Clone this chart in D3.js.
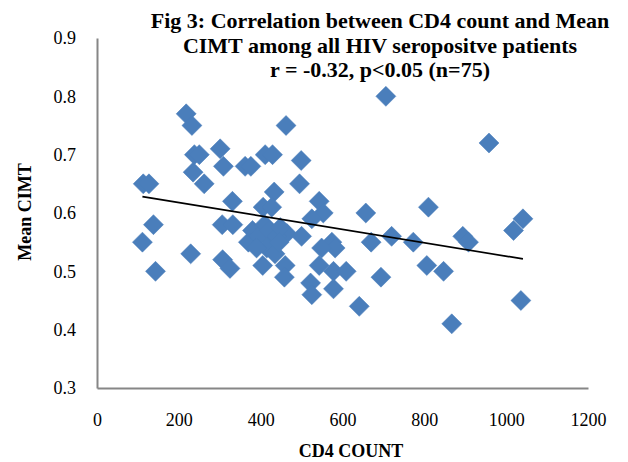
<!DOCTYPE html>
<html>
<head>
<meta charset="utf-8">
<script src="https://cdn.jsdelivr.net/npm/d3@7"></script>
<style>
  body { margin: 0; background: #fff; }
  text { font-family: "Liberation Serif", "Times New Roman", serif; }
</style>
</head>
<body>
<svg id="chart" width="628" height="462"></svg>
<script>
// CD4 count vs mean CIMT scatter

var cd4 = [218, 232, 238, 250, 301, 235, 262, 309, 362, 376, 411, 429, 462, 113, 127,
  138, 331, 306, 332, 433, 406, 427, 111, 143, 229, 307, 325, 370, 405, 460,
  458, 706, 499, 495, 543, 553, 525, 657, 810, 894, 464, 500, 574, 582, 549,
  670, 720, 773, 908, 543, 578, 609, 522, 525, 578, 694, 641, 806, 847, 867,
  958, 1041, 1018, 1036, 380, 395, 410, 420, 428, 440, 448, 415, 435, 390, 445];
var cimt = [0.77, 0.75, 0.70, 0.70, 0.71, 0.67, 0.65, 0.68, 0.68, 0.68, 0.70, 0.70, 0.75, 0.65, 0.65,
  0.58, 0.62, 0.58, 0.58, 0.636, 0.61, 0.61, 0.55, 0.50, 0.53, 0.52, 0.505, 0.55, 0.51, 0.51,
  0.49, 0.80, 0.69, 0.65, 0.62, 0.60, 0.59, 0.60, 0.61, 0.56, 0.565, 0.56, 0.55, 0.54, 0.54,
  0.55, 0.56, 0.55, 0.55, 0.51, 0.50, 0.50, 0.48, 0.46, 0.47, 0.49, 0.44, 0.51, 0.50, 0.41,
  0.72, 0.59, 0.57, 0.45, 0.57, 0.56, 0.58, 0.57, 0.55, 0.56, 0.575, 0.54, 0.53, 0.54, 0.55];

// linear trend: intercept, slope
var trend = [0.641, -0.000115];

var xTicks = [0, 200, 400, 600, 800, 1000, 1200];
var yTicks = [0.3, 0.4, 0.5, 0.6, 0.7, 0.8, 0.9];

var titleLines = ["Fig 3: Correlation between CD4 count and Mean",
  "CIMT among all HIV seropositve patients",
  "r = -0.32, p<0.05 (n=75)"];

var svg = d3.select("#chart");

var x = d3.scaleLinear().domain([0, 1200]).range([97, 588]);
var y = d3.scaleLinear().domain([0.3, 0.9]).range([388, 38]);

// axes
var xAxis = svg.append("g")
  .attr("transform", "translate(0,388)")
  .call(d3.axisBottom(x).tickValues(xTicks).tickSize(0).tickPadding(25)
    .tickFormat(d3.format("d")));
var yAxis = svg.append("g")
  .attr("transform", "translate(97,0)")
  .call(d3.axisLeft(y).tickValues(yTicks).tickSize(0).tickPadding(21)
    .tickFormat(d3.format(".1f")));

[xAxis, yAxis].forEach(function (g) {
  g.select(".domain").attr("stroke", "#868686").attr("stroke-width", 2);
  g.selectAll("text")
    .attr("font-family", "'Liberation Serif', serif")
    .attr("font-size", 18)
    .attr("fill", "#000");
});

// points
var pts = d3.range(cd4.length).map(function (i) { return {x: cd4[i], y: cimt[i]}; });

svg.append("g").selectAll("path")
  .data(pts)
  .enter().append("path")
  .attr("d", d3.symbol().type(d3.symbolSquare).size(200))
  .attr("transform", function (d) {
    return "translate(" + x(d.x) + "," + y(d.y) + ") rotate(45)";
  })
  .attr("fill", "#4a7ebb")
  .attr("stroke", "#4a7ebb")
  .attr("stroke-width", 0.5);

// trend line
var xMin = d3.min(cd4), xMax = d3.max(cd4);
svg.append("line")
  .attr("x1", x(xMin)).attr("y1", y(trend[0] + trend[1] * xMin))
  .attr("x2", x(xMax)).attr("y2", y(trend[0] + trend[1] * xMax))
  .attr("stroke", "#000")
  .attr("stroke-width", 1.75);

// title
svg.append("text")
  .attr("text-anchor", "middle")
  .attr("font-weight", "bold")
  .attr("font-size", 22)
  .selectAll("tspan")
  .data(titleLines)
  .enter().append("tspan")
  .attr("x", 380)
  .attr("y", function (d, i) { return 28 + i * 24.5; })
  .text(function (d) { return d; });

// axis titles
svg.append("text")
  .attr("x", 351).attr("y", 457)
  .attr("text-anchor", "middle")
  .attr("font-weight", "bold")
  .attr("font-size", 18)
  .text("CD4 COUNT");

svg.append("text")
  .attr("transform", "translate(31,212) rotate(-90)")
  .attr("text-anchor", "middle")
  .attr("font-weight", "bold")
  .attr("font-size", 18)
  .text("Mean CIMT");
</script>
</body>
</html>
